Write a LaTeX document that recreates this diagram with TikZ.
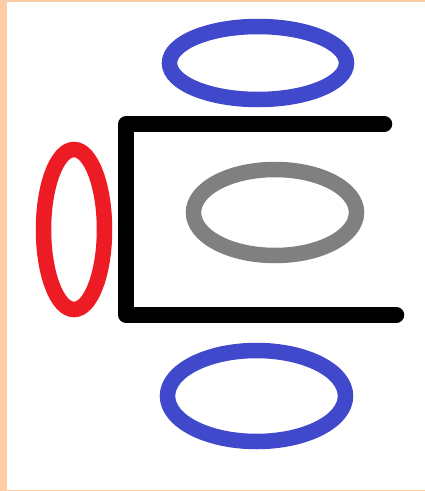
\documentclass[tikz,border=0pt]{standalone}
\usepackage{xcolor}
\usepackage{tikz}
\usetikzlibrary{shapes,shapes.geometric}

\definecolor{peach}{RGB}{252,204,164}
\definecolor{ringblue}{RGB}{64,72,204}
\definecolor{ringred}{RGB}{237,28,36}
\definecolor{ringgray}{RGB}{128,128,128}

\tikzset{
    ring/.style={line width=15.5pt},
    bracket/.style={black,line width=15.5pt,line cap=round,line join=round}
}

\begin{document}
\begin{tikzpicture}[x=1pt,y=-1pt]
    \useasboundingbox (0,0) rectangle (425,491);
    \fill[peach] (0,0) rectangle (425,491);
    \fill[white] (7,2) rectangle (425,490);

    \draw[ring,ringblue] (258,63) ellipse (88.5 and 36.5);
    \draw[ring,ringblue] (256.5,396) ellipse (89 and 45.5);
    \draw[ring,ringgray] (275,212.5) ellipse (81.5 and 43);
    \draw[ring,ringred] (74,229.5) ellipse (30.5 and 80);

    \coordinate (topend) at (384.5,124);
    \coordinate (topcorner) at (126,124);
    \coordinate (botcorner) at (126,315);
    \coordinate (botend) at (396.5,315);
    \draw[bracket] (topend) -- (topcorner) -- (botcorner) -- (botend);
\end{tikzpicture}
\end{document}
